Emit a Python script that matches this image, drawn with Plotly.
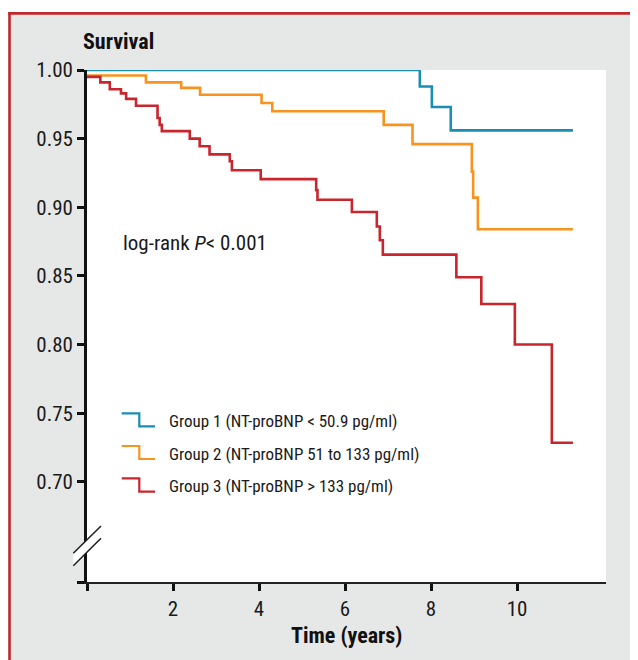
import plotly.graph_objects as go

# ---- data ----
group1_time = [0, 7.74, 8.02, 8.46, 11.3]
group1_surv = [1.0, 0.988, 0.973, 0.956, 0.956]

group2_time = [0, 1.37, 2.19, 2.63, 4.06, 4.31, 6.90, 7.57, 8.95, 8.98, 9.09, 11.3]
group2_surv = [0.996, 0.991, 0.987, 0.982, 0.976, 0.970, 0.960, 0.946, 0.926, 0.907, 0.884, 0.884]

group3_time = [0, 0.31, 0.53, 0.79, 0.91, 1.14, 1.64, 1.69, 1.74, 2.39, 2.62, 2.85, 3.32, 3.37,
               4.04, 5.33, 5.36, 6.16, 6.74, 6.81, 6.88, 8.59, 9.17, 9.95, 10.81, 11.3]
group3_surv = [0.995, 0.991, 0.986, 0.983, 0.979, 0.974, 0.965, 0.960, 0.9555, 0.950, 0.9445,
               0.9385, 0.9335, 0.927, 0.9205, 0.9125, 0.9055, 0.8965, 0.886, 0.876, 0.8655,
               0.849, 0.8295, 0.80, 0.7285, 0.7285]

group_names = ["Group 1 (NT-proBNP < 50.9 pg/ml)",
               "Group 2 (NT-proBNP 51 to 133 pg/ml)",
               "Group 3 (NT-proBNP > 133 pg/ml)"]
group_colors = ["#1a8db3", "#f7931e", "#c9252c"]

x_tickvals = [0, 2, 4, 6, 8, 10]
x_ticktext = ["", "2", "4", "6", "8", "10"]
y_tickvals = [0.627, 0.70, 0.75, 0.80, 0.85, 0.90, 0.95, 1.00]
y_ticktext = ["", "0.70", "0.75", "0.80", "0.85", "0.90", "0.95", "1.00"]

# ---- layout geometry (screen pixels; page body adds an 8px offset) ----
OFF = 8
FW, FH = 638 - OFF, 660 - OFF
L, R, T, B = 87, 606, 70, 582          # plot area on screen
W, H = R - L, B - T
NARROW = "Liberation Sans Narrow, Arial Narrow, Roboto Condensed, sans-serif"
BG = "#e6e7e7"


def px(x):
    return (x - L) / W


def py(y):
    return (B - y) / H


fig = go.Figure()
series = [(group1_time, group1_surv), (group2_time, group2_surv), (group3_time, group3_surv)]
for (t, s), name, col in zip(series, group_names, group_colors):
    fig.add_trace(go.Scatter(x=t, y=s, mode="lines", line=dict(shape="hv", color=col, width=2.6),
                             name=name, showlegend=False, cliponaxis=False))

shapes = []
# white outside the red frame
shapes.append(dict(type="rect", xref="paper", yref="paper", x0=px(-5), x1=px(8.5), y0=py(-5), y1=py(700),
                   fillcolor="white", line=dict(width=0), layer="below"))
shapes.append(dict(type="rect", xref="paper", yref="paper", x0=px(-5), x1=px(700), y0=py(-5), y1=py(12.2),
                   fillcolor="white", line=dict(width=0), layer="below"))
# red frame lines
shapes.append(dict(type="line", xref="paper", yref="paper", x0=px(9.5), x1=px(9.5), y0=py(12.2), y1=py(700),
                   line=dict(color="#c1272d", width=2.6)))
shapes.append(dict(type="line", xref="paper", yref="paper", x0=px(8.2), x1=px(700), y0=py(13.4), y1=py(13.4),
                   line=dict(color="#c1272d", width=2.6)))
# axis break
brk = (f"M {px(73.3)},{py(553.3)} L {px(101)},{py(526)} L {px(101)},{py(538.3)} "
       f"L {px(73.3)},{py(565.7)} Z")
shapes.append(dict(type="path", xref="paper", yref="paper", path=brk, fillcolor="white",
                   line=dict(width=0), layer="above"))
for (a, b) in [((73.3, 553.3), (101, 526)), ((73.3, 565.7), (101, 538.3))]:
    shapes.append(dict(type="line", xref="paper", yref="paper", x0=px(a[0]), y0=py(a[1]),
                       x1=px(b[0]), y1=py(b[1]), line=dict(color="#222222", width=1.6), layer="above"))

annotations = []
# legend (custom step-shaped keys)
legend_rows = [(413.3, 426.3, 421), (446, 459, 453.5), (478.3, 491.7, 486)]
for (y_up, y_lo, y_txt), name, col in zip(legend_rows, group_names, group_colors):
    path = f"M {px(121.7)},{py(y_up)} L {px(139.3)},{py(y_up)} L {px(139.3)},{py(y_lo)} L {px(155)},{py(y_lo)}"
    shapes.append(dict(type="path", xref="paper", yref="paper", path=path,
                       line=dict(color=col, width=2.2), layer="above"))
    annotations.append(dict(xref="paper", yref="paper", x=px(167), y=py(y_txt), text=name,
                            showarrow=False, xanchor="left", yanchor="middle",
                            font=dict(family=NARROW, size=17, color="#1a1a1a")))

annotations.append(dict(xref="paper", yref="paper", x=px(121), y=py(243), text="log-rank <i>P</i>< 0.001",
                        showarrow=False, xanchor="left", yanchor="middle",
                        font=dict(family=NARROW, size=21, color="#1a1a1a")))
annotations.append(dict(xref="paper", yref="paper", x=px(81), y=py(41), text="<b>Survival</b>",
                        showarrow=False, xanchor="left", yanchor="middle",
                        font=dict(family=NARROW, size=22, color="#111111")))
annotations.append(dict(xref="paper", yref="paper", x=px(346), y=py(635), text="<b>Time (years)</b>",
                        showarrow=False, xanchor="center", yanchor="middle",
                        font=dict(family=NARROW, size=22, color="#111111")))

fig.update_layout(
    width=FW, height=FH,
    margin=dict(l=L - OFF, r=638 - R, t=T - OFF, b=660 - B, pad=0),
    paper_bgcolor=BG, plot_bgcolor="white",
    shapes=shapes, annotations=annotations,
    xaxis=dict(range=[0, (R - L) / 43.0], tickvals=x_tickvals, ticktext=x_ticktext,
               showgrid=False, zeroline=False, showline=True, linecolor="#222222", linewidth=2,
               ticks="outside", ticklen=7, tickwidth=2.6, tickcolor="#111111",
               tickfont=dict(family=NARROW, size=21, color="#1a1a1a")),
    yaxis=dict(range=[0.627, 1.0], tickvals=y_tickvals, ticktext=y_ticktext,
               showgrid=False, zeroline=False, showline=True, linecolor="#111111", linewidth=2.7,
               ticks="outside", ticklen=7, tickwidth=2.6, tickcolor="#111111",
               tickfont=dict(family=NARROW, size=21, color="#1a1a1a")),
)

fig.write_html("out.html")
